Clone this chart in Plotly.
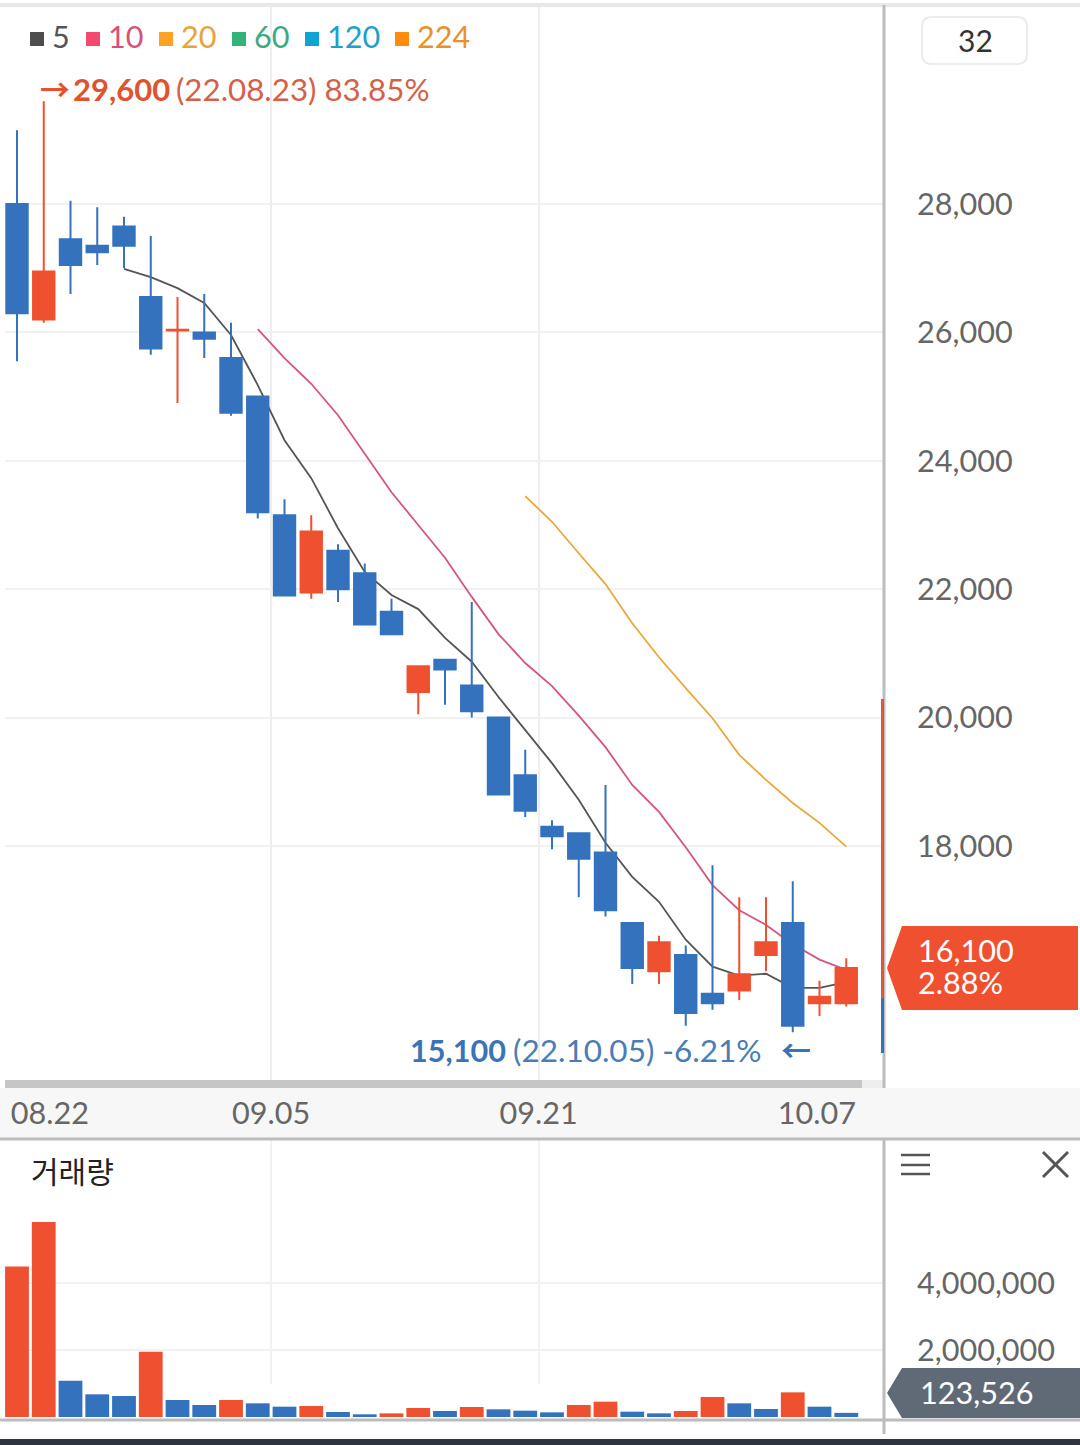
import plotly.graph_objects as go

W, H = 1080, 1445

dates = ['08.22', '08.23', '08.24', '08.25', '08.26', '08.29', '08.30', '08.31', '09.01', '09.02',
         '09.05', '09.06', '09.07', '09.08', '09.13', '09.14', '09.15', '09.16', '09.19', '09.20',
         '09.21', '09.22', '09.23', '09.26', '09.27', '09.28', '09.29', '09.30', '10.04', '10.05',
         '10.06', '10.07']
opens = [28000, 26200, 27450, 27350, 27650, 26550, 26030, 26000, 25600, 25000,
         23150, 21950, 22600, 22250, 21650, 20400, 20900, 20500, 20000, 19100,
         18300, 18200, 17900, 16800, 16050, 16300, 15700, 15750, 16300, 16800,
         15550, 15550]
highs = [29150, 29600, 28050, 27950, 27800, 27500, 26550, 26600, 26150, 25000,
         23400, 23150, 22700, 22400, 21850, 20800, 20900, 21800, 20000, 19500,
         18400, 18200, 18950, 16800, 16600, 16450, 17700, 17200, 17200, 17450,
         15900, 16250]
lows = [25550, 26150, 26600, 27050, 27000, 25650, 24900, 25600, 24700, 23100,
        21900, 21850, 21800, 21450, 21300, 20050, 20200, 20000, 18800, 18450,
        17950, 17200, 16900, 15850, 15850, 15200, 15450, 15600, 16050, 15100,
        15350, 15500]
closes = [26300, 26950, 27050, 27250, 27350, 25750, 26040, 25900, 24750, 23200,
          21900, 22900, 22000, 21450, 21300, 20800, 20750, 20100, 18800, 18550,
          18150, 17800, 17000, 16100, 16500, 15400, 15550, 16000, 16500, 15200,
          15650, 16100]

ma5 = [26990, 26860, 26690, 26460, 25960, 25180, 24320, 23730, 22950, 22270,
       21910, 21690, 21240, 20870, 20320, 19810, 19290, 18720, 18050, 17520,
       17130, 16540, 16120, 15980, 16010, 15790, 15790, 15880]
ma10 = [26050, 25600, 25200, 24710, 24110, 23510, 23000, 22490, 21880, 21300,
        20850, 20490, 20030, 19540, 18950, 18530, 17980, 17390, 17000, 16770,
        16470, 16230, 16070]
ma20 = [23450, 23050, 22560, 22080, 21470, 20940, 20460, 19990, 19420, 19030,
        18670, 18360, 17990]

volumes = [4490000, 5820000, 1085000, 677000, 627000, 1950000, 507000, 358000, 507000, 408000,
           308000, 328000, 149000, 80000, 109000, 269000, 179000, 299000, 229000, 189000,
           139000, 358000, 458000, 159000, 109000, 179000, 597000, 408000, 239000, 736000,
           308000, 123526]
volume_up = [1, 1, 0, 0, 0, 1, 0, 0, 1, 0, 0, 1, 0, 0, 1, 1, 0, 1, 0, 0,
             0, 1, 1, 0, 0, 1, 1, 0, 0, 1, 0, 0]

price_ticks = [18000, 20000, 22000, 24000, 26000, 28000]
volume_ticks = [2000000, 4000000]
date_ticks = ['08.22', '09.05', '09.21', '10.07']

RED = '#ef5030'
BLUE = '#3472bd'
FONT = 'Lato'
x_all = list(range(len(dates)))


def px(x):
    return x / W


def py(y):
    return 1 - y / H


def rect(x0, y0, x1, y1, color, layer='above'):
    return dict(type='rect', xref='paper', yref='paper', x0=px(x0), x1=px(x1), y0=py(y0), y1=py(y1),
                fillcolor=color, line_width=0, layer=layer)


def seg(x0, y0, x1, y1, color, width=2, layer='above'):
    return dict(type='line', xref='paper', yref='paper', x0=px(x0), x1=px(x1), y0=py(y0), y1=py(y1),
                line=dict(color=color, width=width), layer=layer)


def poly(points, color):
    path = 'M ' + ' L '.join(f'{px(a)} {py(b)}' for a, b in points) + ' Z'
    return dict(type='path', xref='paper', yref='paper', path=path, fillcolor=color, line_width=0)


def label(x, y, s, color='#666666', size=30.6, family=FONT, anchor='left'):
    return dict(xref='paper', yref='paper', x=px(x), y=py(y), text=s, showarrow=False,
                xanchor=anchor, yanchor='middle', borderpad=0,
                font=dict(family=family, size=size, color=color))


x_range = [(5 - 17) / 26.75, (884 - 17) / 26.75]
price_range = [14230, 31100]
volume_range = [-89550, 8268450]

fig = go.Figure()

fig.add_trace(go.Scatter(x=x_all[4:], y=ma5, mode='lines', line=dict(color='#555555', width=1.8),
                         xaxis='x', yaxis='y', hoverinfo='skip'))
fig.add_trace(go.Scatter(x=x_all[9:], y=ma10, mode='lines', line=dict(color='#d6557f', width=1.8),
                         xaxis='x', yaxis='y', hoverinfo='skip'))
fig.add_trace(go.Scatter(x=x_all[19:], y=ma20, mode='lines', line=dict(color='#e8a83e', width=1.8),
                         xaxis='x', yaxis='y', hoverinfo='skip'))

fig.add_trace(go.Candlestick(x=x_all, open=opens, high=highs, low=lows, close=closes,
                             increasing=dict(fillcolor=RED, line=dict(color=RED, width=2)),
                             decreasing=dict(fillcolor=BLUE, line=dict(color=BLUE, width=2)),
                             whiskerwidth=0, xaxis='x3', yaxis='y3', hoverinfo='skip'))

fig.add_trace(go.Bar(x=x_all, y=volumes, width=0.89,
                     marker=dict(color=[RED if u else BLUE for u in volume_up], line_width=0),
                     xaxis='x2', yaxis='y2', hoverinfo='skip'))

shapes = [
    rect(0, 1088, W, 1138, '#f7f7f7', 'below'),
    rect(5, 1080, 862, 1088, '#c6c6c6'),
    rect(862, 1080, 884, 1088, '#eeeeee'),
    seg(0, 5, W, 5, '#e8e8e8', 4),
    seg(0, 1139, W, 1139, '#bcbcbc', 3),
    seg(0, 1420, W, 1420, '#bcbcbc', 3),
    rect(0, 1439, W, H, '#2e3540'),
    seg(271, 1140, 271, 1384, '#eeeeee', 1.5, 'below'),
    seg(539, 1140, 539, 1384, '#eeeeee', 1.5, 'below'),
    seg(884, 5, 884, 1088, '#bcbcbc', 3),
    seg(884, 1138, 884, 1434, '#bcbcbc', 3),
    seg(882.5, 699, 882.5, 998, '#e0563a', 3),
    seg(882.5, 998, 882.5, 1053, BLUE, 3),
    poly([(887, 968), (902, 926), (1078, 926), (1078, 1010), (902, 1010)], RED),
    poly([(887, 1393), (902, 1368), (1080, 1368), (1080, 1418), (902, 1418)], '#5f6a76'),
    seg(901, 1155, 930, 1155, '#555555', 2.5),
    seg(901, 1165, 930, 1165, '#555555', 2.5),
    seg(901, 1174, 930, 1174, '#555555', 2.5),
    seg(1043, 1152, 1068, 1177, '#555555', 3),
    seg(1068, 1152, 1043, 1177, '#555555', 3),
    dict(type='path', xref='paper', yref='paper',
         path=(f'M {px(932)} {py(17)} L {px(1017)} {py(17)} Q {px(1027)} {py(17)} {px(1027)} {py(27)} '
               f'L {px(1027)} {py(54)} Q {px(1027)} {py(64)} {px(1017)} {py(64)} '
               f'L {px(932)} {py(64)} Q {px(922)} {py(64)} {px(922)} {py(54)} '
               f'L {px(922)} {py(27)} Q {px(922)} {py(17)} {px(932)} {py(17)} Z'),
         fillcolor='white', line=dict(color='#ececec', width=2)),
]

legend_items = [('5', 30, 51, '#4d4d4d', '#555555'), ('10', 86, 107, '#f4486f', '#d9507a'),
                ('20', 159, 180, '#fca326', '#e8a33d'), ('60', 232, 253, '#33b27a', '#3fa882'),
                ('120', 305, 326, '#0ea5d3', '#1fa0c8'), ('224', 395, 416, '#ff8c0a', '#e8912a')]
annotations = []
for name, sq, tx, sq_color, tx_color in legend_items:
    shapes.append(rect(sq, 32, sq + 14, 46, sq_color))
    annotations.append(label(tx, 37, name, tx_color))

annotations += [
    label(39, 88, '<b>→</b>', '#e8502f', 30, 'Noto Sans CJK KR'),
    label(72, 89, '<b>29,600</b>', '#e0532f', 31),
    label(175, 89, '(22.08.23) 83.85%', '#d4604a', 31.3),
    label(409, 1050, '<b>15,100</b>', '#3a74b6', 30.6),
    label(512, 1050, '(22.10.05) -6.21%', '#4a7db5', 31.5),
    label(780, 1049, '<b>←</b>', '#3a74b6', 30, 'Noto Sans CJK KR'),
    label(975, 40, '32', '#333333', 30, FONT, 'center'),
    label(917, 950, '16,100', 'white'),
    label(917, 982, '2.88%', 'white'),
    label(919, 1392, '123,526', 'white'),
    label(30, 1170, '거래량', '#222222', 30, 'Noto Sans CJK KR'),
]

tick_font = dict(family=FONT, size=30.6, color='#666666')
grid = '#f1f1f1'

fig.update_layout(
    width=W, height=H,
    margin=dict(l=0, r=0, t=0, b=0),
    paper_bgcolor='white',
    plot_bgcolor='white',
    showlegend=False,
    shapes=shapes,
    annotations=annotations,
    boxgap=0.2,
    boxgroupgap=0,
    xaxis=dict(domain=[px(5), px(884)], range=x_range, anchor='y', zeroline=False, showgrid=False,
               tickmode='array', tickvals=[1.23, 9.5, 19.5, 29.9], ticktext=date_ticks,
               tickfont=tick_font, ticks='', ticklabelstandoff=4,
               minor=dict(tickmode='array', tickvals=[9.5, 19.5], showgrid=True, gridcolor='#eeeeee', gridwidth=1.5),
               rangeslider=dict(visible=False)),
    yaxis=dict(domain=[py(1088), py(5)], range=price_range, anchor='x', side='right', zeroline=False,
               tickmode='array', tickvals=price_ticks, tickformat=',', tickfont=tick_font,
               gridcolor=grid, gridwidth=2, ticks='', ticklabelstandoff=32),
    xaxis3=dict(overlaying='x', range=x_range, anchor='y3', visible=False, rangeslider=dict(visible=False)),
    yaxis3=dict(overlaying='y', range=price_range, anchor='x3', side='right', visible=False),
    xaxis2=dict(domain=[px(5), px(884)], range=x_range, anchor='y2', showticklabels=False, showgrid=False,
                zeroline=False),
    yaxis2=dict(domain=[py(1420), py(1140)], range=volume_range, anchor='x2', side='right', zeroline=False,
                tickmode='array', tickvals=volume_ticks, tickformat=',', tickfont=tick_font,
                gridcolor=grid, gridwidth=2, ticks='', ticklabelstandoff=32),
)

fig.write_html('out.html', config=dict(displayModeBar=False),
               post_script="document.body.style.margin='0';")
